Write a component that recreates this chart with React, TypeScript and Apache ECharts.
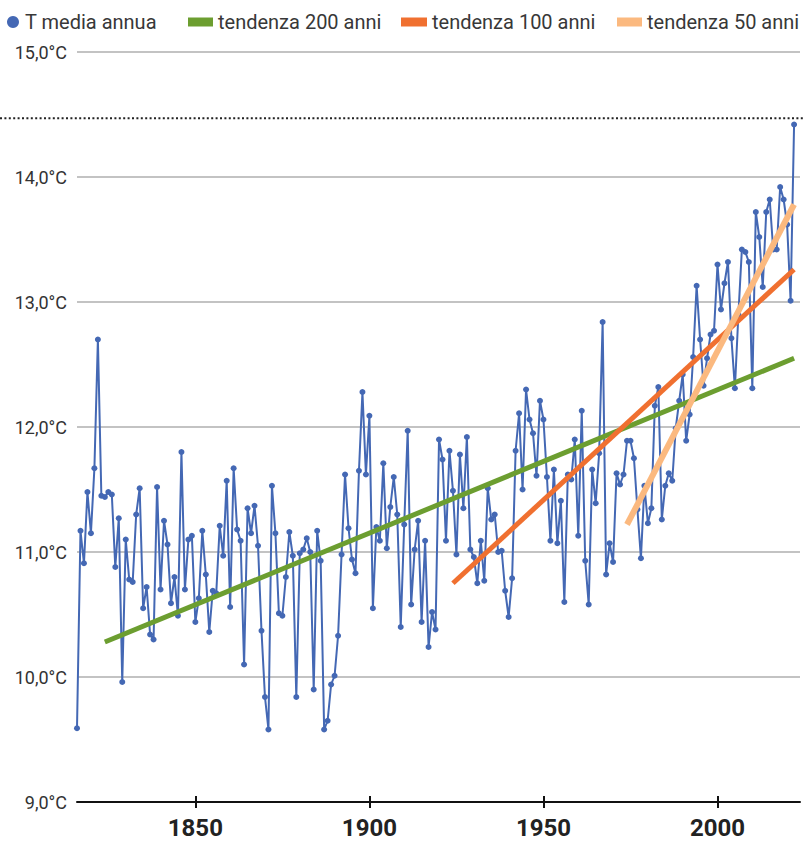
import React, { useEffect, useRef } from "react";
import * as echarts from "echarts";

const FIRST_YEAR = 1816;
// Annual mean temperature (°C), one value per year from FIRST_YEAR
const temps: number[] = [
  9.59, 11.17, 10.91, 11.48,
  11.15, 11.67, 12.70, 11.45, 11.44, 11.48, 11.46, 10.88, 11.27, 9.96,
  11.10, 10.78, 10.76, 11.30, 11.51, 10.55, 10.72, 10.34, 10.30, 11.52,
  10.70, 11.25, 11.06, 10.59, 10.80, 10.49, 11.80, 10.70, 11.10, 11.13,
  10.44, 10.63, 11.17, 10.82, 10.36, 10.69, 10.67, 11.21, 10.97, 11.57,
  10.56, 11.67, 11.18, 11.09, 10.10, 11.35, 11.15, 11.37, 11.05, 10.37,
  9.84, 9.58, 11.53, 11.15, 10.51, 10.49, 10.80, 11.16, 10.97, 9.84,
  10.99, 11.02, 11.11, 11.00, 9.90, 11.17, 10.93, 9.58, 9.65, 9.94,
  10.01, 10.33, 10.98, 11.62, 11.19, 10.94, 10.83, 11.65, 12.28, 11.62,
  12.09, 10.55, 11.20, 11.09, 11.71, 11.03, 11.36, 11.60, 11.30, 10.40,
  11.22, 11.97, 10.58, 11.02, 11.25, 10.44, 11.09, 10.24, 10.52, 10.38,
  11.90, 11.74, 11.09, 11.81, 11.49, 10.98, 11.78, 11.35, 11.92, 11.02,
  10.96, 10.75, 11.09, 10.77, 11.51, 11.26, 11.30, 11.00, 11.01, 10.69,
  10.48, 10.79, 11.81, 12.11, 11.50, 12.30, 12.06, 11.95, 11.61, 12.21,
  12.06, 11.60, 11.09, 11.66, 11.07, 11.41, 10.60, 11.62, 11.58, 11.90,
  11.13, 12.13, 10.93, 10.58, 11.66, 11.39, 11.79, 12.84, 10.82, 11.07,
  10.92, 11.63, 11.54, 11.62, 11.89, 11.89, 11.75, 11.34, 10.95, 11.53,
  11.23, 11.35, 12.17, 12.32, 11.26, 11.53, 11.63, 11.57, 11.99, 12.21,
  12.42, 11.89, 12.10, 12.56, 13.13, 12.70, 12.33, 12.55, 12.74, 12.77,
  13.30, 12.94, 13.15, 13.32, 12.71, 12.31, 12.90, 13.42, 13.40, 13.32,
  12.31, 13.72, 13.52, 13.12, 13.72, 13.82, 13.42, 13.42, 13.92, 13.82,
  13.62, 13.01, 14.42,
];

const trend200Years = [1824, 2022];
const trend200Values = [10.28, 12.55];
const trend100Years = [1924, 2022];
const trend100Values = [10.75, 13.26];
const trend50Years = [1974, 2022];
const trend50Values = [11.22, 13.78];

const xTickYears = [1850, 1900, 1950, 2000];
const REF_LINE = 14.47;

const NAMES = ["T media annua", "tendenza 200 anni", "tendenza 100 anni", "tendenza 50 anni"];
const COLORS = ["#4468b4", "#6c9e30", "#f07030", "#fbb97f"];

export default function App() {
  const ref = useRef<HTMLDivElement>(null);
  useEffect(() => {
    if (!ref.current) return;
    const chart = echarts.init(ref.current, null, { renderer: "svg" });
    const pts = temps.map((v, i) => [FIRST_YEAR + i, v]);
    const pair = (ys: number[], vs: number[]) => ys.map((y, i) => [y, vs[i]]);
    const legendText = { fontSize: 20, color: "#383838", fontFamily: "Roboto" };
    const xMin = FIRST_YEAR;
    const xMax = 2023.7;
    chart.setOption({
      animation: false,
      backgroundColor: "#ffffff",
      textStyle: { fontFamily: "Roboto" },
      legend: [
        { left: 7, top: 12, padding: 0, icon: "circle", itemWidth: 14, itemHeight: 12, data: [NAMES[0]], textStyle: legendText },
        { left: 188, top: 12, padding: 0, icon: "rect", itemWidth: 25, itemHeight: 9, data: [NAMES[1]], textStyle: legendText },
        { left: 401, top: 12, padding: 0, icon: "rect", itemWidth: 26, itemHeight: 9, data: [NAMES[2]], textStyle: legendText },
        { left: 617, top: 12, padding: 0, icon: "rect", itemWidth: 25, itemHeight: 9, data: [NAMES[3]], textStyle: legendText },
      ],
      grid: { left: 77, top: 52, width: 723, height: 750, containLabel: false },
      xAxis: [
        {
          type: "value",
          min: xMin,
          max: xMax,
          axisLine: { show: true, lineStyle: { color: "#111", width: 2 } },
          axisTick: { show: true, length: 6, customValues: xTickYears, lineStyle: { color: "#111", width: 2 } },
          axisLabel: {
            customValues: xTickYears,
            fontSize: 24,
            fontWeight: "bold",
            color: "#222",
            margin: 14,
            formatter: (v: number) => String(v),
          },
          splitLine: { show: false },
        },
        {
          type: "value",
          min: xMin,
          max: xMax,
          position: "bottom",
          axisLine: { show: false },
          axisTick: { show: true, inside: true, length: 6, customValues: xTickYears, lineStyle: { color: "#111", width: 2 } },
          axisLabel: { show: false },
          splitLine: { show: false },
        },
      ],
      yAxis: {
        type: "value",
        min: 9,
        max: 15,
        interval: 1,
        axisLine: { show: false },
        axisTick: { show: false },
        axisLabel: {
          fontSize: 18,
          color: "#333",
          margin: 10,
          formatter: (v: number) => v.toFixed(1).replace(".", ",") + "°C",
        },
        splitLine: { lineStyle: { color: "#c3c3c3", width: 2 } },
      },
      series: [
        {
          name: NAMES[0],
          type: "line",
          data: pts,
          symbol: "circle",
          symbolSize: 6,
          lineStyle: { color: COLORS[0], width: 2 },
          itemStyle: { color: COLORS[0] },
          z: 2,
        },
        {
          name: NAMES[1],
          type: "line",
          data: pair(trend200Years, trend200Values),
          symbol: "none",
          lineStyle: { color: COLORS[1], width: 5 },
          itemStyle: { color: COLORS[1] },
          z: 3,
        },
        {
          name: NAMES[2],
          type: "line",
          data: pair(trend100Years, trend100Values),
          symbol: "none",
          lineStyle: { color: COLORS[2], width: 5 },
          itemStyle: { color: COLORS[2] },
          z: 4,
        },
        {
          name: NAMES[3],
          type: "line",
          data: pair(trend50Years, trend50Values),
          symbol: "none",
          lineStyle: { color: COLORS[3], width: 6 },
          itemStyle: { color: COLORS[3] },
          z: 5,
        },
      ],
    });
    const y = chart.convertToPixel({ yAxisIndex: 0 }, REF_LINE) as number;
    chart.setOption({
      graphic: [
        {
          type: "line",
          shape: { x1: 0, y1: y, x2: 803, y2: y },
          style: { stroke: "#222", lineWidth: 2, lineDash: [2, 2.4] },
          silent: true,
        },
      ],
    });
    return () => chart.dispose();
  }, []);
  return <div ref={ref} style={{ position: "fixed", left: 0, top: 0, width: 803, height: 842 }} />;
}
